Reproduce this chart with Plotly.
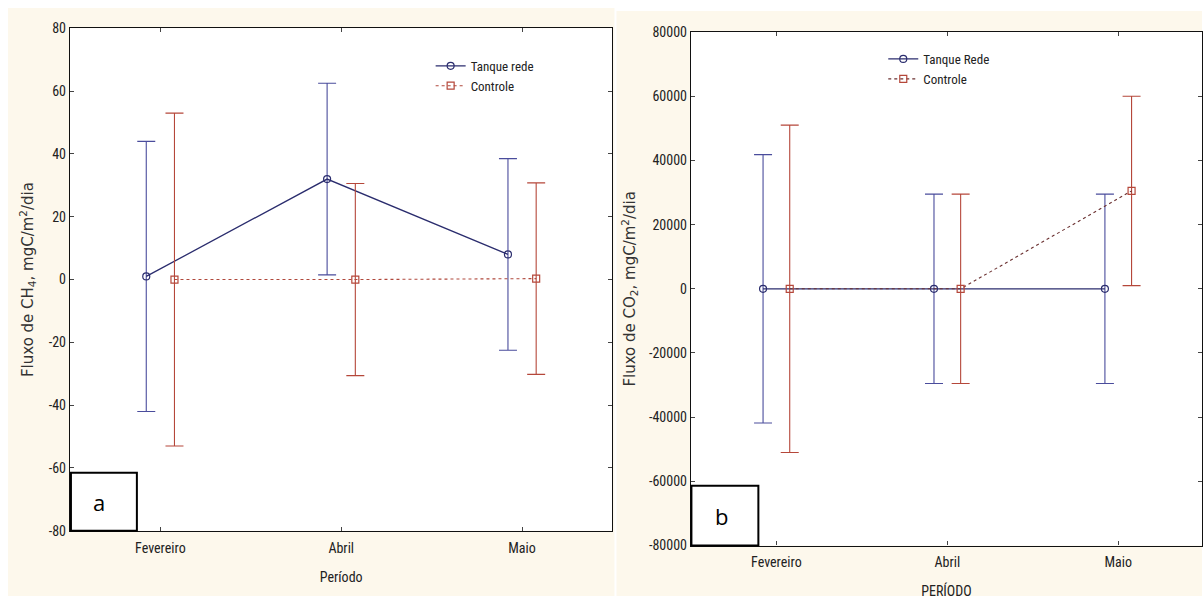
import plotly.graph_objects as go

# ---------------- data ----------------
periods = ["Fevereiro", "Abril", "Maio"]
period_pos = [1, 2, 3]

ch4_tanque_mean = [1, 32, 8]
ch4_tanque_err = [43, 30.5, 30.5]
ch4_controle_mean = [0, 0, 0.3]
ch4_controle_err = [53, 30.6, 30.5]

co2_tanque_mean = [0, 0, 0]
co2_tanque_err = [41800, 29500, 29500]
co2_controle_mean = [0, 0, 30500]
co2_controle_err = [51000, 29500, 29500]

ch4_ticks = [-80, -60, -40, -20, 0, 20, 40, 60, 80]
ch4_ticktext = ["-80", "-60", "-40", "-20", "0", "20", "40", "60", "80"]
co2_ticks = [-80000, -60000, -40000, -20000, 0, 20000, 40000, 60000, 80000]
co2_ticktext = ["-80000", "-60000", "-40000", "-20000", "0", "20000", "40000", "60000", "80000"]

offset = 0.078

W, H = 1203, 604
NARROW = "Liberation Sans Narrow, Arial Narrow, Roboto Condensed, sans-serif"
WIDE = "DejaVu Sans, Verdana, sans-serif"

BLUE_LINE = "#2b2d6e"
BLUE_ERR = "#4a4c9c"
RED_LINE = "#b0483c"
RED_ERR = "#b5473a"
CREAM = "#fdf8ec"

def px_x(p):
    return p / W

def px_y(p):
    return 1 - p / H

fig = go.Figure()

def add_pair(xa, ya, t_mean, t_err, c_mean, c_err, t_name, legend, c_line_color):
    fig.add_trace(go.Scatter(
        x=[p - offset for p in period_pos], y=t_mean, name=t_name,
        xaxis=xa, yaxis=ya, mode="lines+markers", legend=legend,
        line=dict(color=BLUE_LINE, width=1.3),
        marker=dict(symbol="circle-open", size=7, color=BLUE_LINE, line=dict(width=1.2)),
        error_y=dict(type="data", array=t_err, visible=True, color=BLUE_ERR,
                     thickness=1.1, width=9),
    ))
    fig.add_trace(go.Scatter(
        x=[p + offset for p in period_pos], y=c_mean, name="Controle",
        xaxis=xa, yaxis=ya, mode="lines+markers", legend=legend,
        line=dict(color=c_line_color, width=1.1, dash="dot"),
        marker=dict(symbol="square-open", size=7, color=RED_ERR, line=dict(width=1.2)),
        error_y=dict(type="data", array=c_err, visible=True, color=RED_ERR,
                     thickness=1.1, width=9),
    ))

add_pair("x", "y", ch4_tanque_mean, ch4_tanque_err, ch4_controle_mean, ch4_controle_err,
         "Tanque rede", "legend", RED_LINE)
add_pair("x2", "y2", co2_tanque_mean, co2_tanque_err, co2_controle_mean, co2_controle_err,
         "Tanque Rede", "legend2", "#6b3030")

tickfont = dict(family=NARROW, size=14, color="#222")
common_x = dict(tickmode="array", tickvals=period_pos, ticktext=periods, tickfont=tickfont,
                showline=True, linecolor="#111", linewidth=1.2, mirror="allticks",
                ticks="inside", ticklen=4, tickcolor="#444", showgrid=False, zeroline=False,
                ticklabelstandoff=4)
common_y = dict(tickmode="array", tickfont=tickfont, showline=True, linecolor="#111",
                linewidth=1.2, mirror="allticks", ticks="inside", ticklen=4,
                tickcolor="#444", showgrid=False, zeroline=False)

fig.update_layout(
    width=W, height=H, margin=dict(l=0, r=0, t=0, b=0),
    paper_bgcolor="white", plot_bgcolor="white", showlegend=True,
    xaxis=dict(domain=[px_x(70), px_x(613)], range=[0.5, 3.5], anchor="y",
               title=dict(text="Período", font=dict(family=NARROW, size=14, color="#222"), standoff=17),
               **common_x),
    yaxis=dict(domain=[px_y(537), px_y(20.9)], range=[-80, 80], anchor="x",
               tickvals=ch4_ticks, ticktext=ch4_ticktext,
               title=dict(text="Fluxo de CH<sub>4</sub>, mgC/m<sup>2</sup>/dia",
                          font=dict(family=WIDE, size=15, color="#333"), standoff=11),
               **common_y),
    xaxis2=dict(domain=[px_x(691.5), 1.0], range=[0.5, 3.49], anchor="y2",
                title=dict(text="PERÍODO", font=dict(family=NARROW, size=14, color="#222"), standoff=16),
                **common_x),
    yaxis2=dict(domain=[px_y(552.2), px_y(24.7)], range=[-80000, 80000], anchor="x2",
                tickvals=co2_ticks, ticktext=co2_ticktext,
                title=dict(text="Fluxo de CO<sub>2</sub>, mgC/m<sup>2</sup>/dia",
                           font=dict(family=WIDE, size=15, color="#333"), standoff=9),
                **common_y),
    legend=dict(x=px_x(431), y=px_y(44), xanchor="left", yanchor="top",
                bgcolor="rgba(0,0,0,0)", font=dict(family=NARROW, size=13, color="#222"),
                itemwidth=30, tracegroupgap=0),
    legend2=dict(x=px_x(884), y=px_y(37), xanchor="left", yanchor="top",
                 bgcolor="rgba(0,0,0,0)", font=dict(family=NARROW, size=13, color="#222"),
                 itemwidth=30, tracegroupgap=0),
    shapes=[
        dict(type="rect", xref="paper", yref="paper", x0=px_x(8), x1=px_x(615),
             y0=0, y1=1, fillcolor=CREAM, line=dict(width=0), layer="below"),
        dict(type="rect", xref="paper", yref="paper", x0=px_x(617), x1=1.0,
             y0=0, y1=px_y(3), fillcolor=CREAM, line=dict(width=0), layer="below"),
        dict(type="rect", xref="x domain", yref="y domain", x0=0, x1=1, y0=0, y1=1,
             fillcolor="white", line=dict(width=0), layer="below"),
        dict(type="rect", xref="x2 domain", yref="y2 domain", x0=0, x1=1, y0=0, y1=1,
             fillcolor="white", line=dict(width=0), layer="below"),
        dict(type="rect", xref="paper", yref="paper", x0=px_x(71), x1=px_x(137),
             y0=px_y(537), y1=px_y(477.4), fillcolor="white", line=dict(color="black", width=2)),
        dict(type="rect", xref="paper", yref="paper", x0=px_x(692), x1=px_x(759),
             y0=px_y(552.2), y1=px_y(490.7), fillcolor="white", line=dict(color="black", width=2)),
    ],
    annotations=[
        dict(text="a", xref="paper", yref="paper", x=px_x(99), y=px_y(507), showarrow=False,
             xanchor="center", yanchor="middle",
             font=dict(family="Open Sans, sans-serif", size=22, color="black")),
        dict(text="b", xref="paper", yref="paper", x=px_x(722), y=px_y(521.6), showarrow=False,
             xanchor="center", yanchor="middle",
             font=dict(family="Open Sans, sans-serif", size=22, color="black")),
    ],
)

fig.write_html("out.html",
               post_script="document.body.style.margin='0';document.body.style.overflow='hidden';")
